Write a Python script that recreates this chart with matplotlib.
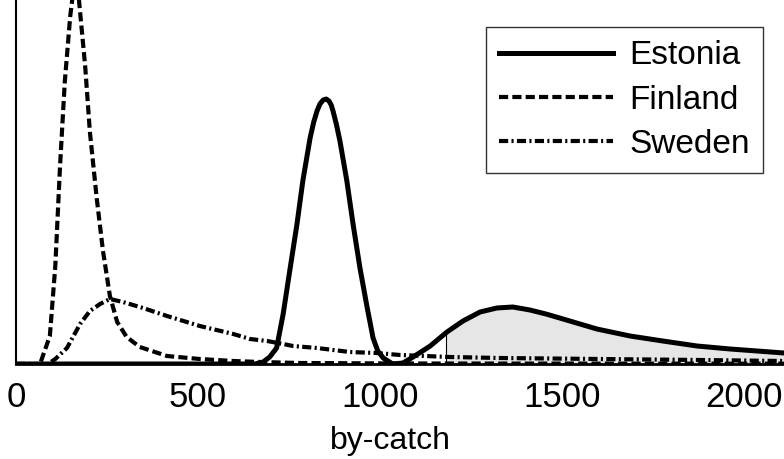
import numpy as np
import matplotlib
matplotlib.use('Agg')
import matplotlib.pyplot as plt

plt.rcParams['font.family'] = ['Liberation Sans', 'DejaVu Sans']

# by-catch values and relative density heights
finland_x = [0, 66, 93, 108, 121, 134, 149, 165, 190, 203, 222, 239, 258, 278, 304,
             340, 415, 505, 597, 670, 780, 1055, 2110]
finland_y = [0, 0, 28, 98, 198, 282, 348, 395, 298, 232, 165, 113, 68, 42, 27,
             17, 8, 5, 3, 2, 1, 0.5, 0.3]

sweden_x = [0, 88, 108, 140, 176, 203, 231, 258, 294, 349, 415, 505, 597, 643, 690,
            734, 761, 827, 917, 991, 1055, 1192, 1329, 1604, 1879, 2110]
sweden_y = [0, 0, 5, 16, 40, 53, 60, 65, 62, 56, 48, 38, 30, 25, 23,
            20, 18, 16, 12, 11, 9, 7, 6, 5, 4, 3]

estonia_x = [0, 656, 679, 697, 716, 734, 752, 772, 788, 808, 818, 827, 835, 844, 852,
             860, 866, 871, 880, 890, 909, 926, 945, 965, 981, 994, 1009, 1035, 1063,
             1091, 1138, 1184, 1228, 1275, 1321, 1365, 1412, 1456, 1503, 1596, 1687,
             1777, 1871, 1962, 2110]
estonia_y = [0, 0, 2, 7, 16, 50, 93, 140, 183, 226, 242, 253, 260, 264, 265,
             263, 259, 253, 240, 223, 183, 140, 96, 56, 26, 13, 6, 0, 1,
             7, 18, 32, 43, 52, 56, 57, 54, 50, 45, 35, 28,
             23, 18, 15, 11]

shade_from = 1181  # start of the grey tail area
scale = 364.0      # height of the axis in the same units

fig = plt.figure(figsize=(7.84, 4.59), dpi=100)
ax = fig.add_axes([16 / 784, 95 / 459, 1 - 16 / 784, 364 / 459])

ex = np.array(estonia_x, dtype=float)
ey = np.array(estonia_y, dtype=float) / scale

# grey tail under the Estonia curve
y0 = np.interp(shade_from, ex, ey)
mask = ex > shade_from
fx = np.concatenate([[shade_from], ex[mask]])
fy = np.concatenate([[y0], ey[mask]])
ax.fill_between(fx, 0, fy, color='#e6e6e6', lw=0, zorder=1)
ax.plot([shade_from, shade_from], [0, y0], color='black', lw=0.8, zorder=2)

ax.plot(estonia_x, ey, color='black', lw=3.6, solid_joinstyle='round',
        label='Estonia', zorder=4)
ax.plot(finland_x, np.array(finland_y) / scale, color='black', lw=3.0,
        dashes=(2.2, 1.0), label='Finland', zorder=3)
ax.plot(sweden_x, np.array(sweden_y) / scale, color='black', lw=3.0,
        dashes=(2.2, 0.8, 0.5, 0.8), label='Sweden', zorder=3)

ax.set_xlim(0, 2110)
ax.set_ylim(0, 1)
ax.set_xticks([0, 500, 1000, 1500, 2000])
ax.set_yticks([])
ax.tick_params(axis='x', length=0, pad=12, labelsize=25)
ax.set_xlabel('by-catch', fontsize=23, labelpad=9)
ax.xaxis.label.set_x(0.488)
for s in ['top', 'right']:
    ax.spines[s].set_visible(False)
ax.spines['left'].set_linewidth(1.5)
ax.spines['bottom'].set_linewidth(2.0)

leg = ax.legend(loc='upper right', bbox_to_anchor=(763 / 784, 1 - 27 / 459),
                bbox_transform=fig.transFigure, fontsize=24, frameon=True,
                fancybox=False, edgecolor='black', handlelength=3.4,
                handletextpad=0.5, labelspacing=0.4, borderpad=0.4,
                borderaxespad=0)
leg.get_frame().set_linewidth(1.0)

fig.savefig('out.png', dpi=100)
